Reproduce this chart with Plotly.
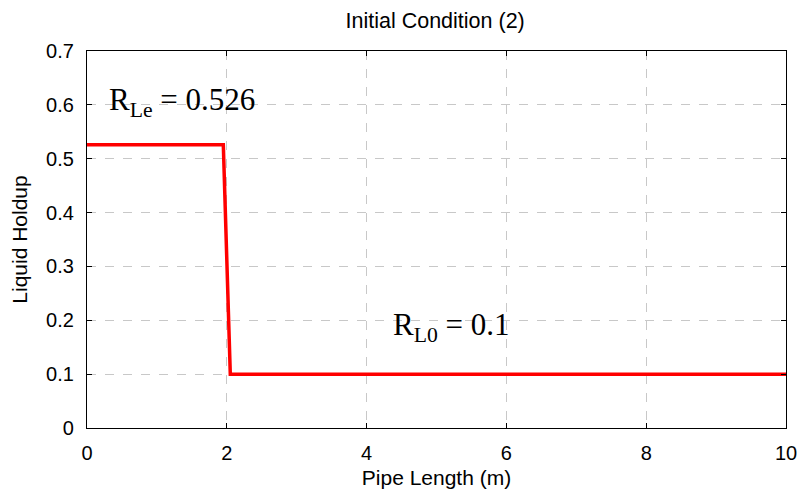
import plotly.graph_objects as go

# Initial liquid holdup profile along the pipe
pipe_length = [0, 1.95, 2.05, 10]
holdup = [0.526, 0.526, 0.1, 0.1]

x_ticks = [0, 2, 4, 6, 8, 10]
y_ticks = [0, 0.1, 0.2, 0.3, 0.4, 0.5, 0.6, 0.7]
y_tick_text = ["0", "0.1", "0.2", "0.3", "0.4", "0.5", "0.6", "0.7"]

FONT = "Arial, Liberation Sans, Helvetica"

fig = go.Figure()
fig.add_trace(go.Scatter(
    x=pipe_length, y=holdup, mode="lines",
    line=dict(color="#ff0000", width=3.5),
    showlegend=False,
))

axis_common = dict(
    showline=True, linecolor="black", linewidth=1.2, mirror="ticks",
    ticks="inside", ticklen=5, tickcolor="black",
    showgrid=True, gridcolor="#c8c8c8", griddash="dash", gridwidth=1,
    zeroline=False, automargin=False, ticklabeloverflow="allow",
    tickfont=dict(family=FONT, size=20, color="black"),
)

fig.update_layout(
    width=797, height=489,
    margin=dict(l=87, r=11, t=51, b=61),
    paper_bgcolor="white", plot_bgcolor="white",
    title=dict(text="Initial Condition (2)", x=0.546, xanchor="center",
               y=0.958, yanchor="middle",
               font=dict(family=FONT, size=21.5, color="black")),
    xaxis=dict(range=[0, 10], tickvals=x_ticks, ticklabelstandoff=7,
               title=dict(text="Pipe Length (m)", standoff=8,
                          font=dict(family=FONT, size=21, color="black")),
               **axis_common),
    yaxis=dict(range=[0, 0.7], tickvals=y_ticks, ticktext=y_tick_text,
               ticklabelstandoff=8,
               title=dict(text="Liquid Holdup", standoff=12,
                          font=dict(family=FONT, size=21, color="black")),
               **axis_common),
)

fig.add_annotation(
    x=0.28, y=0.605, xref="x", yref="y", xanchor="left", yanchor="middle",
    text="R<sub>Le</sub> = 0.526", showarrow=False,
    font=dict(family="Liberation Serif, Times New Roman", size=31, color="black"),
)
fig.add_annotation(
    x=4.35, y=0.188, xref="x", yref="y", xanchor="left", yanchor="middle",
    text="R<sub>L0</sub> = 0.1", showarrow=False,
    font=dict(family="Liberation Serif, Times New Roman", size=31, color="black"),
)

fig.write_html("out.html")
